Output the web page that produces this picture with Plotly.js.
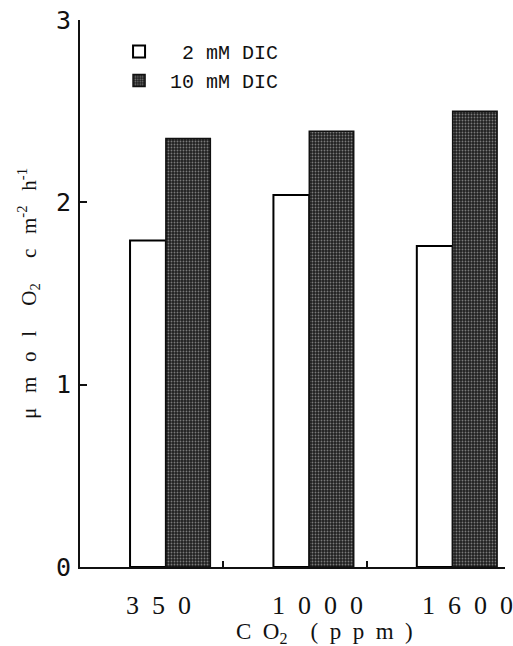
<!DOCTYPE html>
<html><head><meta charset="utf-8">
<script src="https://cdn.plot.ly/plotly-3.0.1.min.js"></script>
<style>html,body{margin:0;padding:0;background:#fff}</style>
</head><body><div id="chart" style="width:513px;height:646px"></div>
<script>
const categoryPos = [0, 1, 2];
const categories = ['3\u20025\u20020', '1\u20020\u20020\u20020', '1\u20026\u20020\u20020'];
const labelPos = [-0.09, 1.02, 2.07];
const tickMarkPos = [0.36, 1.37, 2.33];
const dic2 = [1.79, 2.04, 1.76];
const dic10 = [2.35, 2.39, 2.50];
const seriesNames = ['&nbsp;2 mM DIC', '10 mM DIC'];
const yTicks = [0, 1, 2, 3];
const yTickText = ['0', '1', '2', '3'];
const xTitle = 'C\u2002O<sub>2</sub>\u2002\u2002(\u2002p\u2002p\u2002m\u2002)';
const yTitle = 'μ\u2002\u2009m\u2002\u2009o\u2002\u2009l\u2002\u2002\u2009O<sub>2</sub>\u2002\u2002\u2009c\u2002\u2009m<sup>-2</sup>\u2002\u2009h<sup>-1</sup>';

const traces = [
  {type:'bar', x:categoryPos, y:dic2, name:seriesNames[0], width:0.25, offset:-0.285,
   marker:{color:'#ffffff', line:{color:'#000', width:2}}},
  {type:'bar', x:categoryPos, y:dic10, name:seriesNames[1], width:0.31, offset:-0.035,
   marker:{color:'#222', line:{color:'#111', width:1.5},
     pattern:{shape:'.', fgcolor:'#7a7a7a', bgcolor:'#202020', size:3, solidity:0.3}}}
];
const annotations = categories.map((c, i) => ({
  x: labelPos[i], xref:'x', y:0, yref:'paper', yanchor:'top', yshift:-22, showarrow:false,
  text:c, font:{family:'Liberation Serif, serif', size:26, color:'#111'}
}));
annotations.push({x:0.576, xref:'paper', y:0, yref:'paper', yanchor:'top', yshift:-50, showarrow:false,
  text:xTitle, font:{family:'Liberation Serif, serif', size:23, color:'#111'}});
const layout = {
  width:513, height:646, margin:{l:80, r:8, t:20, b:79},
  paper_bgcolor:'#fff', plot_bgcolor:'#fff', showlegend:true, barmode:'overlay',
  legend:{x:0.066, y:0.978, xanchor:'left', yanchor:'top', bgcolor:'rgba(0,0,0,0)',
    font:{family:'Liberation Mono, monospace', size:20, color:'#111'}, itemwidth:52, tracegroupgap:0},
  annotations: annotations,
  xaxis:{range:[-0.634, 2.33], tickvals:tickMarkPos, showticklabels:false, ticks:'inside', ticklen:6, tickwidth:2, tickcolor:'#111',
    showline:true, linecolor:'#111', linewidth:2, showgrid:false, zeroline:false},
  yaxis:{range:[0,3], tickvals:yTicks, ticktext:yTickText, ticks:'inside', ticklen:7, tickwidth:2, tickcolor:'#111',
    showline:true, linecolor:'#111', linewidth:2, showgrid:false, zeroline:false, ticklabelstandoff:2,
    tickfont:{family:'DejaVu Sans Mono, monospace', size:25, color:'#111'},
    title:{text:yTitle, standoff:14, font:{family:'Liberation Serif, serif', size:21, color:'#111'}}}
};
Plotly.newPlot('chart', traces, layout, {displayModeBar:false, staticPlot:true});
</script></body></html>
